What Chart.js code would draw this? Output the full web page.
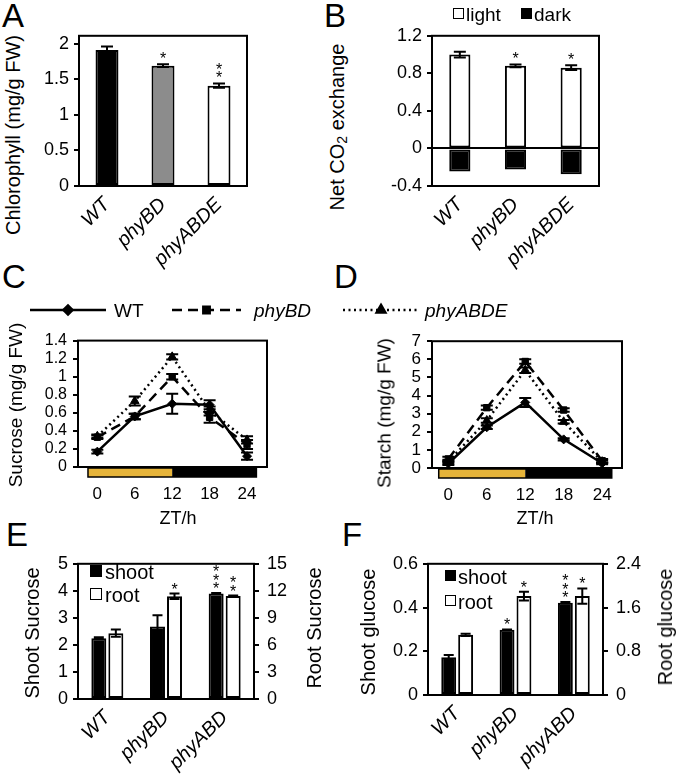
<!DOCTYPE html>
<html>
<head>
<meta charset="utf-8">
<script src="https://cdn.jsdelivr.net/npm/chart.js@4.4.1/dist/chart.umd.min.js"></script>
<style>
  html, body { margin: 0; padding: 0; background: #fff; }
  #fig { position: relative; width: 677px; height: 782px; overflow: hidden; font-family: 'Liberation Sans', Arial, sans-serif; color: #000; }
  #fig canvas { position: absolute; }
  .t { position: absolute; white-space: nowrap; line-height: 1; }
  .rot { transform: translate(-50%, -50%) rotate(-90deg); }
  .ctr { transform: translate(-50%, -50%); }
  .sq { position: absolute; box-sizing: border-box; border: 1.5px solid #000; }
  sub { font-size: 0.7em; vertical-align: -0.2em; }
</style>
</head>
<body>
<div id="fig"></div>
<script>
// ---- data ----
const GENOTYPES = ['WT', 'phyBD', 'phyABDE'];
const CHL = [1.91, 1.69, 1.41];
const CHL_ERR = [0.05, 0.02, 0.03];
const CHL_SIG = ['', '*', '**'];
const CHL_TICKS = [0, 0.5, 1, 1.5, 2];

const CO2_LIGHT = [1.0, 0.88, 0.86];
const CO2_LIGHT_ERR = [0.03, 0.015, 0.025];
const CO2_DARK = [-0.245, -0.225, -0.275];
const CO2_SIG = ['', '*', '*'];
const CO2_TICKS = [-0.4, 0, 0.4, 0.8, 1.2];

const ZT = [0, 6, 12, 18, 24];
const ZT_TICKS = [0, 6, 12, 18, 24];
const LIGHT_DARK = [-1.5, 12, 25.5];

const SUC_WT = [0.17, 0.56, 0.70, 0.69, 0.12];
const SUC_WT_ERR = [0.02, 0.03, 0.11, 0.05, 0.04];
const SUC_BD = [0.33, 0.56, 1.00, 0.55, 0.25];
const SUC_BD_ERR = [0.02, 0.03, 0.03, 0.06, 0.05];
const SUC_ABDE = [0.34, 0.73, 1.22, 0.62, 0.30];
const SUC_ABDE_ERR = [0.02, 0.05, 0.03, 0.05, 0.04];
const SUC_TICKS = [0, 0.2, 0.4, 0.6, 0.8, 1, 1.2, 1.4];

const STA_WT = [0.25, 2.25, 3.62, 1.58, 0.26];
const STA_WT_ERR = [0.08, 0.1, 0.25, 0.06, 0.05];
const STA_BD = [0.5, 3.33, 5.88, 3.2, 0.4];
const STA_BD_ERR = [0.12, 0.12, 0.12, 0.1, 0.1];
const STA_ABDE = [0.35, 2.62, 5.4, 2.55, 0.35];
const STA_ABDE_ERR = [0.1, 0.12, 0.15, 0.1, 0.08];
const STA_TICKS = [0, 1, 2, 3, 4, 5, 6, 7];

const LINES = ['WT', 'phyBD', 'phyABD'];
const SUC_SHOOT = [2.25, 2.68, 3.9];
const SUC_SHOOT_ERR = [0.03, 0.42, 0.02];
const SUC_SHOOT_SIG = ['', '', '***'];
const SUC_ROOT = [7.3, 11.4, 11.43];
const SUC_ROOT_ERR = [0.4, 0.3, 0.05];
const SUC_ROOT_SIG = ['', '*', '**'];
const SUC_SHOOT_TICKS = [0, 1, 2, 3, 4, 5];
const SUC_ROOT_TICKS = [0, 3, 6, 9, 12, 15];

const GLU_SHOOT = [0.173, 0.298, 0.422];
const GLU_SHOOT_ERR = [0.01, 0.002, 0.003];
const GLU_SHOOT_SIG = ['', '*', '***'];
const GLU_ROOT = [1.1, 1.81, 1.81];
const GLU_ROOT_ERR = [0.02, 0.08, 0.14];
const GLU_ROOT_SIG = ['', '*', '*'];
const GLU_SHOOT_TICKS = [0, 0.2, 0.4, 0.6];
const GLU_ROOT_TICKS = [0, 0.8, 1.6, 2.4];

// ---- setup ----
const FONT = "'Liberation Sans', Arial, sans-serif";
Chart.defaults.font.family = FONT;
Chart.defaults.color = '#000';
const fig = document.getElementById('fig');
const fmt = v => String(Math.round(v * 100) / 100);
const pts = (xs, ys) => xs.map((x, i) => ({ x, y: ys[i] }));

const frame = {
  id: 'frame',
  afterDraw(chart) {
    const { left, top, right, bottom } = chart.chartArea;
    const ctx = chart.ctx;
    ctx.save();
    ctx.strokeStyle = '#000';
    ctx.lineWidth = 2;
    ctx.strokeRect(left, top, right - left, bottom - top);
    ctx.restore();
  }
};

const errorBars = {
  id: 'errorBars',
  afterDatasetsDraw(chart) {
    const ctx = chart.ctx;
    ctx.save();
    chart.data.datasets.forEach((ds, di) => {
      if (!ds.errors && !ds.sig) return;
      const meta = chart.getDatasetMeta(di);
      const ys = chart.scales[meta.yAxisID];
      const cap = ds.capHalf || 6;
      meta.data.forEach((el, i) => {
        const d = ds.data[i];
        const v = typeof d === 'object' ? d.y : d;
        const e = ds.errors ? ds.errors[i] : 0;
        const yt = ys.getPixelForValue(v + e);
        const yb = ys.getPixelForValue(v - e);
        if (e > 0) {
          ctx.strokeStyle = '#000';
          ctx.lineWidth = 2;
          ctx.beginPath();
          ctx.moveTo(el.x, yt); ctx.lineTo(el.x, yb);
          ctx.moveTo(el.x - cap, yt); ctx.lineTo(el.x + cap, yt);
          ctx.moveTo(el.x - cap, yb); ctx.lineTo(el.x + cap, yb);
          ctx.stroke();
        }
        const s = ds.sig ? ds.sig[i] : '';
        if (s) {
          ctx.fillStyle = '#000';
          ctx.font = '16px ' + FONT;
          ctx.textAlign = 'center';
          ctx.textBaseline = 'alphabetic';
          for (let k = 0; k < s.length; k++) {
            const cy = Math.min(yt, el.y) - (ds.sigGap || 9) - k * 8.5;
            ctx.fillText('*', el.x, cy + 9);
          }
        }
      });
    });
    ctx.restore();
  }
};

const dayNight = {
  id: 'dayNight',
  afterDraw(chart, args, opts) {
    const b = opts.bounds;
    if (!b) return;
    const xs = chart.scales.x;
    const y0 = chart.chartArea.bottom + 1;
    const ctx = chart.ctx;
    ctx.save();
    ctx.fillStyle = '#E6B43A';
    ctx.fillRect(xs.getPixelForValue(b[0]), y0, xs.getPixelForValue(b[1]) - xs.getPixelForValue(b[0]), 9);
    ctx.fillStyle = '#000';
    ctx.fillRect(xs.getPixelForValue(b[1]), y0, xs.getPixelForValue(b[2]) - xs.getPixelForValue(b[1]), 9);
    ctx.strokeStyle = '#000';
    ctx.lineWidth = 1.5;
    ctx.strokeRect(xs.getPixelForValue(b[0]), y0, xs.getPixelForValue(b[2]) - xs.getPixelForValue(b[0]), 9);
    ctx.restore();
  }
};

function yAxis(min, max, ticks, extra, tickFont, pad) {
  return Object.assign({
    type: 'linear', min, max,
    afterBuildTicks: s => { s.ticks = ticks.map(v => ({ value: v })); },
    grid: { display: true, drawOnChartArea: false, drawTicks: true, tickLength: 5, color: '#000', lineWidth: 2 },
    border: { display: false },
    ticks: { color: '#000', font: { size: tickFont || 18 }, padding: pad || 5, autoSkip: false, callback: v => fmt(v) }
  }, extra || {});
}

function catAxis() {
  return {
    type: 'category', offset: true,
    grid: { display: false, drawTicks: false }, border: { display: false },
    ticks: { color: '#000', font: { size: 20, style: 'italic' }, minRotation: 45, maxRotation: 45, autoSkip: false, padding: 7 }
  };
}

function place(box, area, cfg) {
  const c = document.createElement('canvas');
  c.width = box.w; c.height = box.h;
  c.style.left = box.x + 'px'; c.style.top = box.y + 'px';
  c.style.width = box.w + 'px'; c.style.height = box.h + 'px';
  fig.appendChild(c);
  const o = cfg.options;
  o.responsive = false; o.animation = false; o.devicePixelRatio = 1;
  o.plugins = Object.assign({ legend: { display: false }, tooltip: { enabled: false } }, o.plugins || {});
  o.layout = { padding: { left: 0, top: area.t - box.y, right: o.scales.y1 ? 0 : box.x + box.w - area.r, bottom: 0 } };
  o.scales.x.afterFit = s => { s.height = box.y + box.h - area.b; };
  o.scales.y.afterFit = s => { s.width = area.l - box.x; };
  if (o.scales.y1) o.scales.y1.afterFit = s => { s.width = box.x + box.w - area.r; };
  cfg.plugins = [frame, errorBars].concat(cfg.plugins || []);
  return new Chart(c, cfg);
}

function text(html, x, y, size, cls, style) {
  const d = document.createElement('div');
  d.className = 't ' + (cls || '');
  d.innerHTML = html;
  d.style.left = x + 'px'; d.style.top = y + 'px';
  d.style.fontSize = size + 'px';
  if (style) d.style.fontStyle = style;
  fig.appendChild(d);
  return d;
}

function square(x, y, s, fill) {
  const d = document.createElement('div');
  d.className = 'sq';
  d.style.left = x + 'px'; d.style.top = y + 'px';
  d.style.width = s + 'px'; d.style.height = s + 'px';
  d.style.background = fill;
  fig.appendChild(d);
}

// ---- A: chlorophyll ----
place({ x: 40, y: 20, w: 230, h: 255 }, { l: 79, t: 33, r: 247, b: 186 }, {
  type: 'bar',
  data: { labels: GENOTYPES, datasets: [{
    data: CHL, errors: CHL_ERR, sig: CHL_SIG, sigGap: 9,
    backgroundColor: ['#000', '#8c8c8c', '#fff'], borderColor: '#000', borderWidth: 2, borderSkipped: false,
    categoryPercentage: 1, barPercentage: 0.41
  }] },
  options: { scales: { x: catAxis(), y: yAxis(0, 2.11, CHL_TICKS) } }
});

// ---- B: net CO2 exchange ----
place({ x: 380, y: 20, w: 240, h: 255 }, { l: 432, t: 33, r: 599, b: 186 }, {
  type: 'bar',
  data: { labels: GENOTYPES, datasets: [
    { label: 'light', data: CO2_LIGHT, errors: CO2_LIGHT_ERR, sig: CO2_SIG, sigGap: 9,
      backgroundColor: '#fff', borderColor: '#000', borderWidth: 2, borderSkipped: false,
      categoryPercentage: 1, barPercentage: 0.38 },
    { label: 'dark', data: CO2_DARK, backgroundColor: '#000', borderColor: '#000', borderWidth: 2, borderSkipped: false,
      categoryPercentage: 1, barPercentage: 0.38 }
  ] },
  options: { scales: {
    x: Object.assign(catAxis(), { stacked: true }),
    y: yAxis(-0.4, 1.2, CO2_TICKS, { stacked: true,
      grid: { display: true, drawOnChartArea: true, drawTicks: true, tickLength: 5, lineWidth: 2, tickColor: '#000',
        color: c => (c.tick && c.tick.value === 0 ? '#000' : 'rgba(0,0,0,0)') } })
  } }
});

// ---- C / D: time courses ----
function lineSet(label, ys, errs, dash, style, radius) {
  return { label, data: pts(ZT, ys), errors: errs, capHalf: 6,
    borderColor: '#000', backgroundColor: '#000', borderWidth: 2.5, borderDash: dash,
    pointStyle: style, pointRadius: radius, pointBorderWidth: 1, tension: 0 };
}
function ztAxis(min, max) {
  return { type: 'linear', min, max,
    afterBuildTicks: s => { s.ticks = ZT_TICKS.map(v => ({ value: v })); },
    grid: { display: false, drawTicks: false }, border: { display: false },
    ticks: { color: '#000', font: { size: 17 }, padding: 17, autoSkip: false, callback: v => fmt(v) } };
}

place({ x: 28, y: 325, w: 257, h: 190 }, { l: 78, t: 335, r: 267, b: 467 }, {
  type: 'line',
  data: { datasets: [
    lineSet('WT', SUC_WT, SUC_WT_ERR, [], 'rectRot', 4.5),
    lineSet('phyBD', SUC_BD, SUC_BD_ERR, [10, 6], 'rect', 4.5),
    lineSet('phyABDE', SUC_ABDE, SUC_ABDE_ERR, [2, 3.5], 'triangle', 5)
  ] },
  options: { plugins: { dayNight: { bounds: LIGHT_DARK } },
    scales: { x: ztAxis(-3.1, 27.2), y: yAxis(0, 1.4, SUC_TICKS, null, 16, 6) } },
  plugins: [dayNight]
});

place({ x: 380, y: 325, w: 255, h: 190 }, { l: 432, t: 335, r: 622, b: 468 }, {
  type: 'line',
  data: { datasets: [
    lineSet('WT', STA_WT, STA_WT_ERR, [], 'rectRot', 4.5),
    lineSet('phyBD', STA_BD, STA_BD_ERR, [10, 6], 'rect', 4.5),
    lineSet('phyABDE', STA_ABDE, STA_ABDE_ERR, [2, 3.5], 'triangle', 5)
  ] },
  options: { plugins: { dayNight: { bounds: LIGHT_DARK } },
    scales: { x: ztAxis(-2.55, 27.1), y: yAxis(0, 7, STA_TICKS, null, 17, 6) } },
  plugins: [dayNight]
});

// ---- E / F: shoot vs root ----
function pairSets(shoot, shootErr, shootSig, root, rootErr, rootSig) {
  const common = { borderColor: '#000', borderWidth: 2, borderSkipped: false, categoryPercentage: 0.58, barPercentage: 0.88, capHalf: 5 };
  return [
    Object.assign({ label: 'shoot', data: shoot, errors: shootErr, sig: shootSig, sigGap: 8, yAxisID: 'y', backgroundColor: '#000' }, common),
    Object.assign({ label: 'root', data: root, errors: rootErr, sig: rootSig, sigGap: 8, yAxisID: 'y1', backgroundColor: '#fff' }, common)
  ];
}

place({ x: 40, y: 545, w: 300, h: 237 }, { l: 78, t: 557, r: 254, b: 699 }, {
  type: 'bar',
  data: { labels: LINES, datasets: pairSets(SUC_SHOOT, SUC_SHOOT_ERR, SUC_SHOOT_SIG, SUC_ROOT, SUC_ROOT_ERR, SUC_ROOT_SIG) },
  options: { scales: { x: catAxis(), y: yAxis(0, 5, SUC_SHOOT_TICKS), y1: yAxis(0, 15, SUC_ROOT_TICKS, { position: 'right' }, 18, 8) } }
});

place({ x: 385, y: 545, w: 292, h: 237 }, { l: 428, t: 560, r: 603, b: 695 }, {
  type: 'bar',
  data: { labels: LINES, datasets: pairSets(GLU_SHOOT, GLU_SHOOT_ERR, GLU_SHOOT_SIG, GLU_ROOT, GLU_ROOT_ERR, GLU_ROOT_SIG) },
  options: { scales: { x: catAxis(), y: yAxis(0, 0.6, GLU_SHOOT_TICKS), y1: yAxis(0, 2.4, GLU_ROOT_TICKS, { position: 'right' }, 18, 8) } }
});

// ---- C/D legend (line samples drawn on a strip canvas) ----
(function () {
  const c = document.createElement('canvas');
  c.width = 677; c.height = 30;
  c.style.left = '0px'; c.style.top = '295px';
  fig.appendChild(c);
  const ctx = c.getContext('2d');
  const y = 15;
  const items = [
    { x0: 30, x1: 106, dash: [], style: 'rectRot', r: 4.5 },
    { x0: 172, x1: 241, dash: [10, 6], style: 'rect', r: 4.5 },
    { x0: 343, x1: 419, dash: [2, 3.5], style: 'triangle', r: 5 }
  ];
  items.forEach(it => {
    ctx.strokeStyle = '#000'; ctx.lineWidth = 2.5; ctx.setLineDash(it.dash);
    ctx.beginPath(); ctx.moveTo(it.x0, y); ctx.lineTo(it.x1, y); ctx.stroke();
    ctx.setLineDash([]);
    ctx.fillStyle = '#000';
    Chart.helpers.drawPoint(ctx, { pointStyle: it.style, radius: it.r, rotation: 0, borderWidth: 1 }, (it.x0 + it.x1) / 2, y);
  });
})();
text('WT', 114, 301, 19);
text('phyBD', 254, 301, 19, '', 'italic');
text('phyABDE', 425, 301, 19, '', 'italic');

// ---- panel letters ----
[['A', 2, 3], ['B', 324, 3], ['C', 2, 264], ['D', 334, 264], ['E', 6, 522], ['F', 342, 522]]
  .forEach(([s, x, y]) => text(s, x, y - 4, 33));

// ---- axis titles ----
text('Chlorophyll (mg/g FW)', 13, 135, 20, 'rot');
text('Net CO<sub>2</sub> exchange', 338, 127, 20, 'rot');
text('Sucrose (mg/g FW)', 15, 405, 19, 'rot');
text('Starch (mg/g FW)', 384, 413, 19, 'rot');
text('ZT/h', 178, 518, 18, 'ctr');
text('ZT/h', 535, 518, 18, 'ctr');
text('Shoot Sucrose', 32, 633, 20, 'rot');
text('Root Sucrose', 314, 628, 20, 'rot');
text('Shoot glucose', 368, 632, 20, 'rot');
text('Root glucose', 665, 627, 20, 'rot');

// ---- bar legends ----
square(453, 8, 11, '#fff'); text('light', 466, 5, 19);
square(521, 8, 11, '#000'); text('dark', 534, 5, 19);
square(90, 565, 12, '#000'); text('shoot', 105, 562, 20);
square(90, 588, 12, '#fff'); text('root', 105, 585, 20);
square(445, 570, 11, '#000'); text('shoot', 458, 567, 20);
square(445, 595, 11, '#fff'); text('root', 458, 592, 20);
</script>
</body>
</html>
